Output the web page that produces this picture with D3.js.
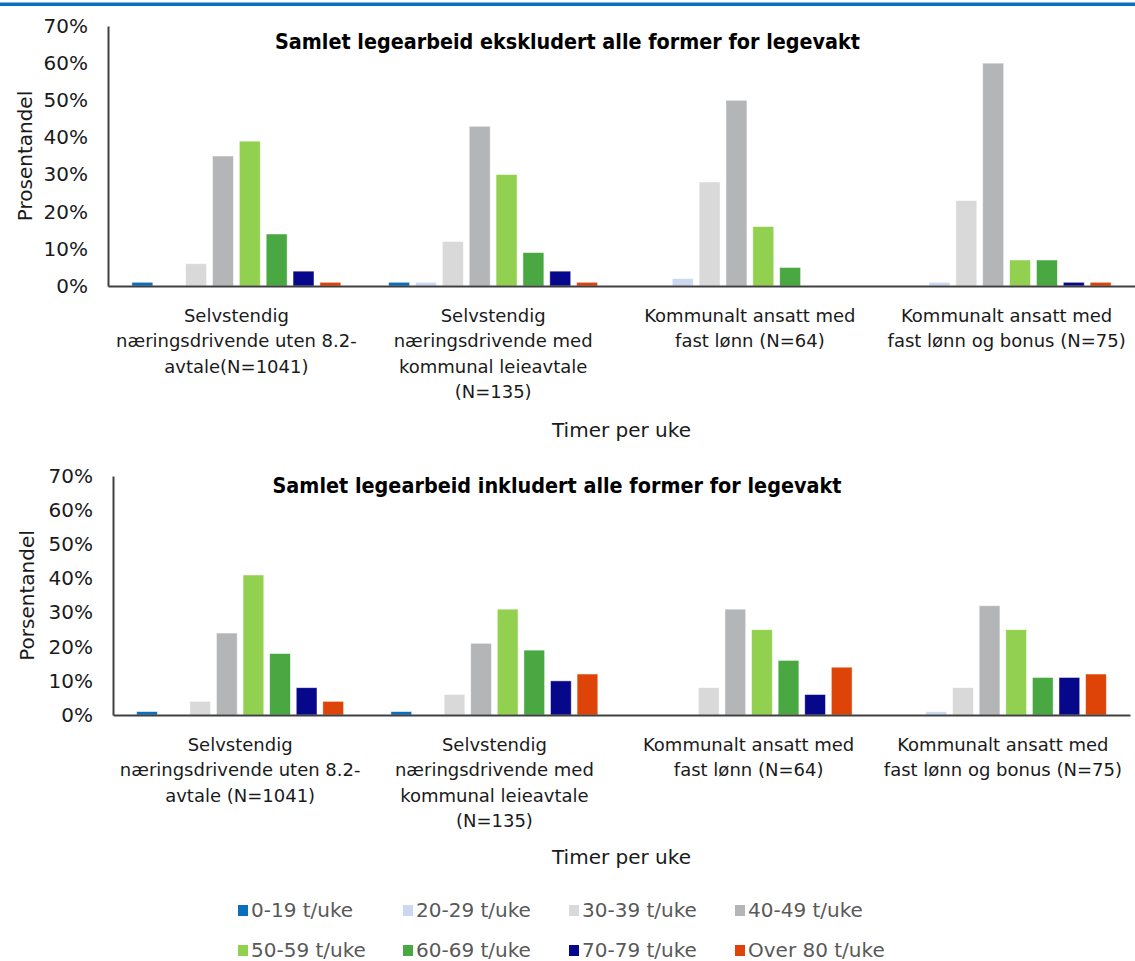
<!DOCTYPE html>
<html>
<head>
<meta charset="utf-8">
<script src="https://cdn.jsdelivr.net/npm/d3@7"></script>
<style>
  html, body { margin: 0; padding: 0; background: #ffffff; }
  svg { display: block; }
  text { font-family: "DejaVu Sans", sans-serif; }
</style>
</head>
<body>
<script>
// Hour bands (series) and their colours
const seriesNames = ["0-19 t/uke", "20-29 t/uke", "30-39 t/uke", "40-49 t/uke",
                     "50-59 t/uke", "60-69 t/uke", "70-79 t/uke", "Over 80 t/uke"];
const seriesColors = ["#0A70BD", "#CCD8F0", "#D9D9D9", "#B4B5B7",
                      "#92D050", "#4AA843", "#07078C", "#DE4307"];

// Category labels, one line per entry
const categoriesTop = [
  ["Selvstendig", "næringsdrivende uten 8.2-", "avtale(N=1041)"],
  ["Selvstendig", "næringsdrivende med", "kommunal leieavtale", "(N=135)"],
  ["Kommunalt ansatt med", "fast lønn (N=64)"],
  ["Kommunalt ansatt med", "fast lønn og bonus (N=75)"]
];
const categoriesBottom = [
  ["Selvstendig", "næringsdrivende uten 8.2-", "avtale (N=1041)"],
  ["Selvstendig", "næringsdrivende med", "kommunal leieavtale", "(N=135)"],
  ["Kommunalt ansatt med", "fast lønn (N=64)"],
  ["Kommunalt ansatt med", "fast lønn og bonus (N=75)"]
];

// Share of doctors (%) per hour band, work excluding all out-of-hours duty
const ekskl_selvstendigUten   = [1, 0, 6, 35, 39, 14, 4, 1];
const ekskl_selvstendigMed    = [1, 1, 12, 43, 30, 9, 4, 1];
const ekskl_kommunalFast      = [0, 2, 28, 50, 16, 5, 0, 0];
const ekskl_kommunalFastBonus = [0, 1, 23, 60, 7, 7, 1, 1];

// Share of doctors (%) per hour band, work including all out-of-hours duty
const inkl_selvstendigUten   = [1, 0, 4, 24, 41, 18, 8, 4];
const inkl_selvstendigMed    = [1, 0, 6, 21, 31, 19, 10, 12];
const inkl_kommunalFast      = [0, 0, 8, 31, 25, 16, 6, 14];
const inkl_kommunalFastBonus = [0, 1, 8, 32, 25, 11, 11, 12];

// Y-axis ticks (percent)
const yTicks = [0, 10, 20, 30, 40, 50, 60, 70];

const W = 1135, H = 961;
const svg = d3.select("body").append("svg").attr("width", W).attr("height", H);

// Blue rule across the top
svg.append("rect").attr("x", 0).attr("y", 2.5).attr("width", W).attr("height", 3.5)
  .attr("fill", "#0A70BD");

function fitText(sel, target) {
  const len = sel.node().getComputedTextLength();
  if (len > 0 && Math.abs(len - target) > 2) {
    sel.attr("textLength", target).attr("lengthAdjust", "spacingAndGlyphs");
  }
}

function drawPanel(cfg) {
  const g = svg.append("g");
  const groups = d3.range(cfg.values.length);

  const x0 = d3.scaleBand().domain(groups).range([cfg.left, cfg.right]);
  const x1 = d3.scaleBand().domain(seriesNames).range([0, x0.bandwidth()])
    .paddingInner(0.22).paddingOuter(0.89);
  const y = d3.scaleLinear().domain([0, 70]).range([cfg.bottom, cfg.top]);
  const color = d3.scaleOrdinal().domain(seriesNames).range(seriesColors);

  // Bars
  const grp = g.selectAll("g.grp").data(cfg.values).join("g")
    .attr("class", "grp")
    .attr("transform", (d, i) => `translate(${x0(i)},0)`);
  grp.selectAll("rect").data(d => d.map((v, j) => ({ key: seriesNames[j], v })))
    .join("rect")
    .filter(d => d.v > 0)
    .attr("x", d => x1(d.key))
    .attr("width", x1.bandwidth())
    .attr("y", d => y(d.v))
    .attr("height", d => y(0) - y(d.v))
    .attr("fill", d => color(d.key))
    .attr("stroke", "#ffffff")
    .attr("stroke-opacity", 0.6)
    .attr("stroke-width", 0.8);

  // Y axis
  const yAxis = g.append("g").attr("transform", `translate(${cfg.left},0)`)
    .call(d3.axisLeft(y).tickValues(yTicks).tickFormat(d => d + "%")
      .tickSize(0).tickSizeOuter(0).tickPadding(20));
  yAxis.select(".domain").attr("stroke", "#404040").attr("stroke-width", 2);
  yAxis.selectAll(".tick text").attr("font-size", 20).attr("fill", "#1a1a1a")
    .attr("font-family", "DejaVu Sans");

  // X axis baseline and multi-line category labels
  const xAxis = g.append("g").attr("transform", `translate(0,${cfg.bottom})`)
    .call(d3.axisBottom(x0).tickSize(0).tickSizeOuter(0).tickFormat(""));
  xAxis.select(".domain").attr("stroke", "#404040").attr("stroke-width", 2);
  xAxis.selectAll(".tick text").each(function (d) {
    const t = d3.select(this)
      .attr("y", 0).attr("dy", null)
      .attr("font-size", 18).attr("fill", "#1a1a1a")
      .attr("font-family", "DejaVu Sans")
      .attr("text-anchor", "middle");
    cfg.labels[d].forEach((line, k) => {
      t.append("tspan").attr("x", 0).attr("y", 36 + k * 25.4).text(line);
    });
  });

  // Chart title
  const title = g.append("text")
    .attr("x", cfg.titleX).attr("y", cfg.titleY)
    .attr("text-anchor", "middle")
    .attr("font-family", "Lato, 'DejaVu Sans', sans-serif")
    .attr("font-weight", "bold").attr("font-size", 21)
    .attr("fill", "#000000")
    .text(cfg.title);
  fitText(title, cfg.titleWidth);

  // Axis titles
  g.append("text")
    .attr("transform", `translate(${cfg.yTitleX},${(cfg.top + cfg.bottom) / 2}) rotate(-90)`)
    .attr("text-anchor", "middle")
    .attr("font-size", 20).attr("fill", "#1a1a1a")
    .text(cfg.yTitle);

  g.append("text")
    .attr("x", (cfg.left + cfg.right) / 2).attr("y", cfg.xTitleY)
    .attr("text-anchor", "middle")
    .attr("font-size", 20).attr("fill", "#1a1a1a")
    .text("Timer per uke");
}

drawPanel({
  left: 108, right: 1135, top: 26, bottom: 286,
  values: [ekskl_selvstendigUten, ekskl_selvstendigMed, ekskl_kommunalFast, ekskl_kommunalFastBonus],
  labels: categoriesTop,
  title: "Samlet legearbeid ekskludert alle former for legevakt",
  titleX: 567.5, titleY: 49, titleWidth: 585,
  yTitle: "Prosentandel", yTitleX: 31.5,
  xTitleY: 437
});

drawPanel({
  left: 113, right: 1130, top: 476, bottom: 715,
  values: [inkl_selvstendigUten, inkl_selvstendigMed, inkl_kommunalFast, inkl_kommunalFastBonus],
  labels: categoriesBottom,
  title: "Samlet legearbeid inkludert alle former for legevakt",
  titleX: 557, titleY: 493, titleWidth: 569,
  yTitle: "Porsentandel", yTitleX: 34,
  xTitleY: 864
});

// Legend: two rows of four
const legendCols = [238, 403, 569, 735];
const legendRows = [917, 957];
const legend = svg.append("g").selectAll("g").data(seriesNames).join("g")
  .attr("transform", (d, i) => `translate(${legendCols[i % 4]},${legendRows[Math.floor(i / 4)]})`);
legend.append("rect").attr("x", 0).attr("y", -12).attr("width", 10).attr("height", 11)
  .attr("fill", (d, i) => seriesColors[i]);
legend.append("text").attr("x", 13).attr("y", 0)
  .attr("font-size", 20).attr("fill", "#595959")
  .text(d => d);
</script>
</body>
</html>
